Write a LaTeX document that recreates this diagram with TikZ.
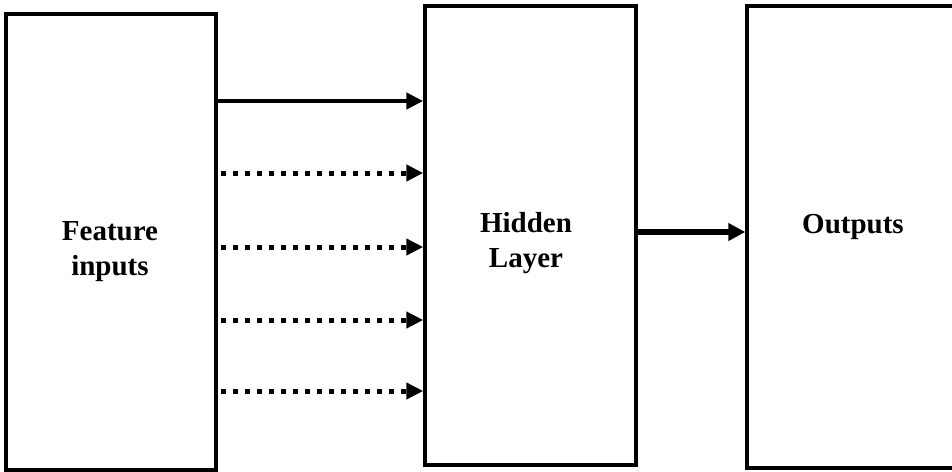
\documentclass[tikz,border=0pt]{standalone}
\usepackage{fontspec}
\setmainfont{Liberation Serif}
\usetikzlibrary{arrows.meta}
\begin{document}
\begin{tikzpicture}[x=1pt,y=-1pt,
  box/.style={draw=black, line width=3.5pt, minimum width=#1, inner sep=0pt},
  lbl/.style={font=\fontsize{29}{35}\selectfont\bfseries, align=center, inner sep=0pt},
  solidarrow/.style={line width=4.5pt, -{Triangle[length=17pt,width=16pt]}},
  dotarrow/.style={line width=5pt, dash pattern=on 5pt off 7pt, -{Triangle[length=17pt,width=16pt]}},
  outarrow/.style={line width=6pt, -{Triangle[length=17pt,width=17pt]}}]
\clip (0,0) rectangle (952,471);
\useasboundingbox (0,0) rectangle (952,471);
\node[box=210pt, minimum height=456pt] (in) at (111,242) {};
\node[box=211pt, minimum height=459pt] (hid) at (530.5,235.5) {};
\node[box=210pt, minimum height=462pt] (out) at (852,237) {};
\node[lbl, anchor=base] (lin) at (110,275) {Feature\\inputs};
\node[lbl, anchor=base] (lhid) at (526,267) {Hidden\\Layer};
\node[lbl, anchor=base] (lout) at (853,233) {Outputs};
\coordinate (y1) at (0,101);
\coordinate (y2) at (0,173);
\coordinate (y3) at (0,247);
\coordinate (y4) at (0,320);
\coordinate (y5) at (0,391);
\coordinate (y6) at (0,232);
\draw[solidarrow] (in.east |- y1) -- (hid.west |- y1);
\foreach \k in {y2,y3,y4,y5}{
  \draw[dotarrow] ([xshift=3pt]in.east |- \k) -- (hid.west |- \k);
}
\draw[outarrow] (hid.east |- y6) -- (out.west |- y6);
\end{tikzpicture}
\end{document}
